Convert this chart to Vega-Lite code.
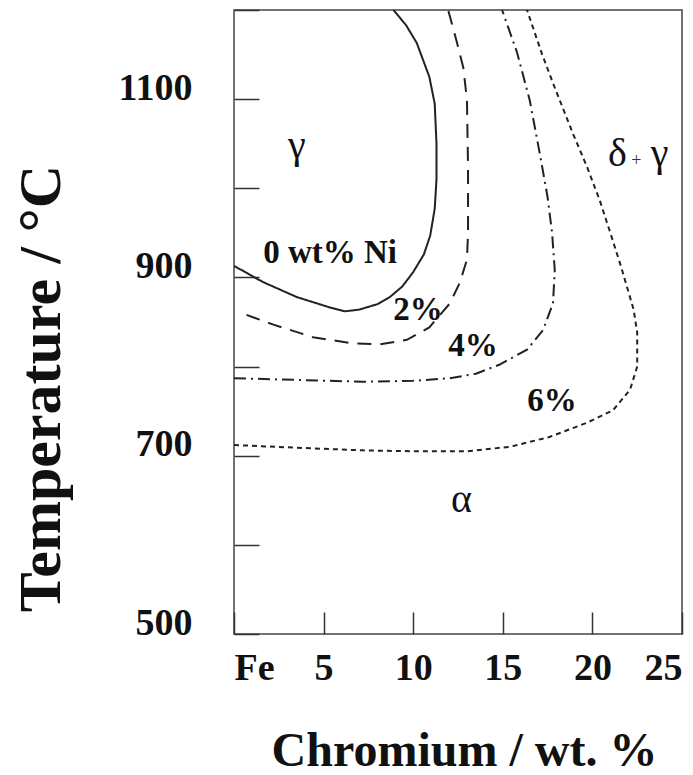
{
  "$schema": "https://vega.github.io/schema/vega-lite/v6.json",
  "width": 448,
  "height": 624,
  "autosize": {"type": "none"},
  "padding": {"left": 234, "top": 10, "right": 11, "bottom": 141},
  "background": "white",
  "config": {"view": {"stroke": "#444", "strokeWidth": 1.5}},
  "datasets": {
    "curves": [
      {"ni": "0%", "i": 1, "cr": 0, "t": 913},
      {"ni": "0%", "i": 2, "cr": 1.6, "t": 895},
      {"ni": "0%", "i": 3, "cr": 3.5, "t": 878},
      {"ni": "0%", "i": 4, "cr": 5.4, "t": 866},
      {"ni": "0%", "i": 5, "cr": 6.2, "t": 862},
      {"ni": "0%", "i": 6, "cr": 7.0, "t": 864},
      {"ni": "0%", "i": 7, "cr": 8.0, "t": 870},
      {"ni": "0%", "i": 8, "cr": 8.7, "t": 878},
      {"ni": "0%", "i": 9, "cr": 9.4, "t": 890},
      {"ni": "0%", "i": 10, "cr": 10.0, "t": 906},
      {"ni": "0%", "i": 11, "cr": 10.6, "t": 926},
      {"ni": "0%", "i": 12, "cr": 10.95, "t": 947},
      {"ni": "0%", "i": 13, "cr": 11.2, "t": 977},
      {"ni": "0%", "i": 14, "cr": 11.3, "t": 1010},
      {"ni": "0%", "i": 15, "cr": 11.3, "t": 1050},
      {"ni": "0%", "i": 16, "cr": 11.2, "t": 1095},
      {"ni": "0%", "i": 17, "cr": 10.9, "t": 1125},
      {"ni": "0%", "i": 18, "cr": 10.2, "t": 1163},
      {"ni": "0%", "i": 19, "cr": 9.6, "t": 1183},
      {"ni": "0%", "i": 20, "cr": 8.9, "t": 1200},
      {"ni": "2%", "i": 1, "cr": 0.7, "t": 858},
      {"ni": "2%", "i": 2, "cr": 2.2, "t": 847},
      {"ni": "2%", "i": 3, "cr": 4.4, "t": 833},
      {"ni": "2%", "i": 4, "cr": 6.6, "t": 826},
      {"ni": "2%", "i": 5, "cr": 8.15, "t": 825},
      {"ni": "2%", "i": 6, "cr": 9.65, "t": 830},
      {"ni": "2%", "i": 7, "cr": 10.9, "t": 844},
      {"ni": "2%", "i": 8, "cr": 12.05, "t": 871},
      {"ni": "2%", "i": 9, "cr": 12.6, "t": 894},
      {"ni": "2%", "i": 10, "cr": 13.0, "t": 920},
      {"ni": "2%", "i": 11, "cr": 13.06, "t": 950},
      {"ni": "2%", "i": 12, "cr": 13.06, "t": 1024},
      {"ni": "2%", "i": 13, "cr": 13.0, "t": 1099},
      {"ni": "2%", "i": 14, "cr": 12.8, "t": 1135},
      {"ni": "2%", "i": 15, "cr": 12.45, "t": 1163},
      {"ni": "2%", "i": 16, "cr": 11.95, "t": 1200},
      {"ni": "4%", "i": 1, "cr": 0, "t": 787},
      {"ni": "4%", "i": 2, "cr": 3.5, "t": 785},
      {"ni": "4%", "i": 3, "cr": 7.2, "t": 783},
      {"ni": "4%", "i": 4, "cr": 10.0, "t": 784},
      {"ni": "4%", "i": 5, "cr": 12.05, "t": 787},
      {"ni": "4%", "i": 6, "cr": 13.5, "t": 792},
      {"ni": "4%", "i": 7, "cr": 14.8, "t": 802},
      {"ni": "4%", "i": 8, "cr": 16.35, "t": 819},
      {"ni": "4%", "i": 9, "cr": 17.25, "t": 841},
      {"ni": "4%", "i": 10, "cr": 17.8, "t": 871},
      {"ni": "4%", "i": 11, "cr": 17.9, "t": 908},
      {"ni": "4%", "i": 12, "cr": 17.75, "t": 950},
      {"ni": "4%", "i": 13, "cr": 17.5, "t": 990},
      {"ni": "4%", "i": 14, "cr": 17.1, "t": 1035},
      {"ni": "4%", "i": 15, "cr": 16.5, "t": 1099},
      {"ni": "4%", "i": 16, "cr": 15.8, "t": 1152},
      {"ni": "4%", "i": 17, "cr": 14.96, "t": 1200},
      {"ni": "6%", "i": 1, "cr": 0, "t": 712},
      {"ni": "6%", "i": 2, "cr": 3.5, "t": 709},
      {"ni": "6%", "i": 3, "cr": 7.2, "t": 706},
      {"ni": "6%", "i": 4, "cr": 10.0, "t": 705},
      {"ni": "6%", "i": 5, "cr": 13.0, "t": 705},
      {"ni": "6%", "i": 6, "cr": 15.4, "t": 710},
      {"ni": "6%", "i": 7, "cr": 17.6, "t": 721},
      {"ni": "6%", "i": 8, "cr": 19.7, "t": 737},
      {"ni": "6%", "i": 9, "cr": 21.15, "t": 751},
      {"ni": "6%", "i": 10, "cr": 22.1, "t": 774},
      {"ni": "6%", "i": 11, "cr": 22.5, "t": 800},
      {"ni": "6%", "i": 12, "cr": 22.5, "t": 838},
      {"ni": "6%", "i": 13, "cr": 22.3, "t": 864},
      {"ni": "6%", "i": 14, "cr": 21.6, "t": 912},
      {"ni": "6%", "i": 15, "cr": 21.0, "t": 950},
      {"ni": "6%", "i": 16, "cr": 20.4, "t": 987},
      {"ni": "6%", "i": 17, "cr": 19.7, "t": 1024},
      {"ni": "6%", "i": 18, "cr": 18.9, "t": 1062},
      {"ni": "6%", "i": 19, "cr": 17.8, "t": 1118},
      {"ni": "6%", "i": 20, "cr": 17.2, "t": 1150},
      {"ni": "6%", "i": 21, "cr": 16.35, "t": 1200}
    ],
    "bold": [
      {"label": "0 wt% Ni", "cr": 5.36, "t": 916},
      {"label": "2%", "cr": 10.27, "t": 852},
      {"label": "4%", "cr": 13.34, "t": 812},
      {"label": "6%", "cr": 17.75, "t": 750}
    ],
    "greek": [
      {"label": "γ", "cr": 3.5, "t": 1034},
      {"label": "α", "cr": 12.7, "t": 637},
      {"label": "δ", "cr": 21.4, "t": 1025},
      {"label": "γ", "cr": 23.75, "t": 1025}
    ],
    "plus": [
      {"label": "+", "cr": 22.45, "t": 1025}
    ]
  },
  "encoding": {
    "x": {
      "field": "cr", "type": "quantitative",
      "scale": {"domain": [0, 25], "nice": false, "zero": false},
      "axis": {
        "title": "Chromium / wt. %",
        "values": [0, 5, 10, 15, 20, 25],
        "labelExpr": "datum.value == 0 ? 'Fe' : datum.label",
        "labelFlush": true, "labelOverlap": false,
        "grid": false, "domain": false,
        "tickSize": -22, "tickColor": "#333", "tickWidth": 1.5,
        "labelFont": "Liberation Serif", "labelFontWeight": "bold", "labelFontSize": 38, "labelColor": "#111",
        "labelBaseline": "alphabetic", "labelPadding": 67,
        "titleFont": "Liberation Serif", "titleFontWeight": "bold", "titleFontSize": 48, "titleColor": "#111",
        "titleX": 230, "titleY": 131, "titleBaseline": "alphabetic", "titleAlign": "center"
      }
    },
    "y": {
      "field": "t", "type": "quantitative",
      "scale": {"domain": [500, 1200], "nice": false, "zero": false},
      "axis": {
        "title": "Temperature / °C",
        "values": [500, 600, 700, 800, 900, 1000, 1100, 1200],
        "format": "d",
        "labelExpr": "datum.value % 200 == 100 ? datum.label : ''",
        "labelOverlap": false,
        "grid": false, "domain": false,
        "tickSize": -25, "tickColor": "#333", "tickWidth": 1.5,
        "labelFont": "Liberation Serif", "labelFontWeight": "bold", "labelFontSize": 38, "labelColor": "#111",
        "labelPadding": 67, "labelOffset": -11,
        "titleFont": "Liberation Serif", "titleFontWeight": "bold", "titleFontSize": 60, "titleColor": "#111",
        "titleAngle": -90, "titleX": -175, "titleY": 378, "titleBaseline": "alphabetic", "titleAlign": "center"
      }
    }
  },
  "layer": [
    {
      "data": {"name": "curves"},
      "mark": {"type": "line", "strokeWidth": 2, "color": "#222", "clip": true},
      "encoding": {
        "order": {"field": "i", "type": "quantitative"},
        "strokeDash": {
          "field": "ni", "type": "nominal",
          "scale": {"domain": ["0%", "2%", "4%", "6%"], "range": [[1, 0], [14, 9], [12, 5, 2, 5], [5, 4]]},
          "legend": null
        }
      }
    },
    {
      "data": {"name": "bold"},
      "mark": {"type": "text", "font": "Liberation Serif", "fontWeight": "bold", "fontSize": 33, "color": "#111", "align": "center", "baseline": "alphabetic"},
      "encoding": {"text": {"field": "label"}}
    },
    {
      "data": {"name": "greek"},
      "mark": {"type": "text", "font": "Liberation Serif", "fontSize": 40, "color": "#111", "align": "center", "baseline": "alphabetic"},
      "encoding": {"text": {"field": "label"}}
    },
    {
      "data": {"name": "plus"},
      "mark": {"type": "text", "font": "Liberation Serif", "fontSize": 18, "color": "#333", "align": "center", "baseline": "alphabetic"},
      "encoding": {"text": {"field": "label"}}
    }
  ]
}
